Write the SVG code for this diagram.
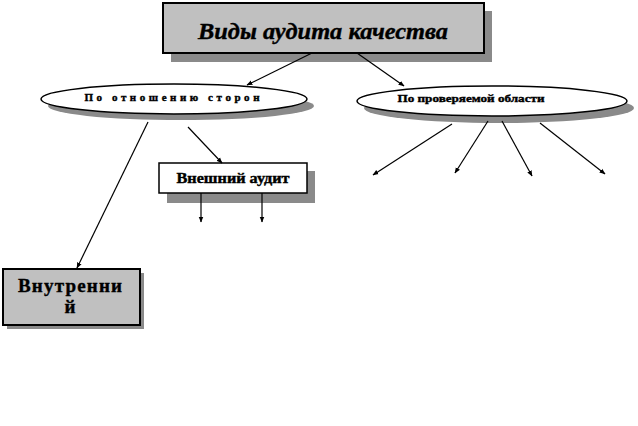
<svg xmlns="http://www.w3.org/2000/svg" width="638" height="426" viewBox="0 0 638 426">
<defs>
<marker id="arr" viewBox="0 0 10 10" refX="9" refY="5" markerWidth="6" markerHeight="6" orient="auto" markerUnits="userSpaceOnUse">
<path d="M0,1 L10,5 L0,9 z" fill="#000"/>
</marker>
<style>
.shadow{fill:#8a8a8a;stroke:none}
.box{stroke:#000;stroke-width:2}
.gray{fill:#c0c0c0}
.white{fill:#fff}
.lbl{font-family:"Liberation Serif","Times New Roman",serif;font-weight:bold;fill:#000;text-anchor:middle;stroke:#000;stroke-width:0.4}
.conn line{stroke:#000;stroke-width:1.2;marker-end:url(#arr)}
</style>
</defs>
<rect width="638" height="426" fill="#fff"/>

<g id="title">
<rect class="shadow" x="171" y="11" width="321" height="51"/>
<rect class="box gray" x="163" y="3" width="321" height="50"/>
<text class="lbl" x="323" y="39" font-size="24" font-style="italic" textLength="250" lengthAdjust="spacingAndGlyphs">Виды аудита качества</text>
</g>

<g id="left-ellipse">
<ellipse class="shadow" cx="181" cy="106" rx="133" ry="14"/>
<ellipse class="white" cx="174" cy="99" rx="133" ry="15" stroke="#000" stroke-width="1.5"/>
<text class="lbl" x="172" y="101" font-size="11" textLength="175" lengthAdjust="spacing">По  отношению  сторон</text>
</g>

<g id="right-ellipse">
<ellipse class="shadow" cx="499" cy="108" rx="135" ry="15"/>
<ellipse class="white" cx="492" cy="101" rx="135" ry="15" stroke="#000" stroke-width="1.5"/>
<text class="lbl" x="471" y="102" font-size="11" textLength="147" lengthAdjust="spacingAndGlyphs">По проверяемой  области</text>
</g>

<g id="external">
<rect class="shadow" x="167" y="171" width="148" height="32"/>
<rect class="white" x="159" y="163" width="148" height="30" stroke="#000" stroke-width="1.5"/>
<text class="lbl" x="233" y="183" font-size="14" textLength="113" lengthAdjust="spacingAndGlyphs">Внешний аудит</text>
</g>

<g id="internal">
<rect class="shadow" x="7" y="273" width="137" height="56"/>
<rect class="box gray" x="3" y="269" width="137" height="56"/>
<text class="lbl" x="70" y="292" font-size="19" textLength="104" lengthAdjust="spacing">Внутренни</text>
<text class="lbl" x="70" y="313" font-size="19">й</text>
</g>

<g id="connectors" class="conn">
<line x1="312" y1="53" x2="247" y2="85"/>
<line x1="357" y1="53" x2="404" y2="86"/>
<line x1="188" y1="127" x2="222" y2="163"/>
<line x1="148" y1="122" x2="77" y2="268"/>
<line x1="201" y1="193" x2="201" y2="222"/>
<line x1="262" y1="193" x2="262" y2="222"/>
<line x1="452" y1="124" x2="373" y2="175"/>
<line x1="488" y1="121" x2="455" y2="173"/>
<line x1="502" y1="121" x2="532" y2="176"/>
<line x1="540" y1="123" x2="605" y2="174"/>
</g>
</svg>
